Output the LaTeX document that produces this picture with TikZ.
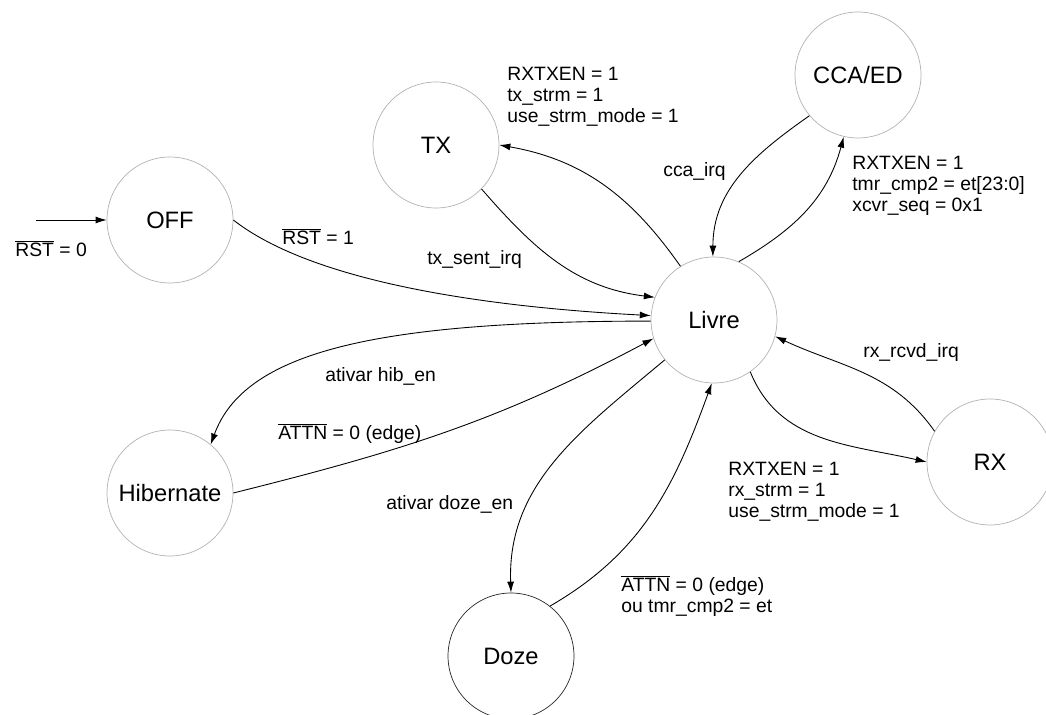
\documentclass[tikz,border=0pt]{standalone}
\usepackage{fontspec}
\setmainfont{Liberation Sans}
\usetikzlibrary{arrows.meta}
\newcommand{\negado}[1]{$\overline{\mbox{#1}}$}

\begin{document}
\begin{tikzpicture}[x=0.02cm, y=0.02cm, >={Latex[length=2.2mm, width=1.4mm]},
  estado/.style={circle, draw=black!30, minimum size=2.52cm, inner sep=0pt, font=\fontsize{13.5}{16}\selectfont},
  transicao/.style={->, line width=0.5pt},
  rotulo/.style={inner sep=0pt, align=left, font=\fontsize{11}{12}\selectfont}]
\useasboundingbox (0,0) rectangle (1046,-715);
% Draw the states
\foreach \nome/\x/\y/\texto in {off/170/220/OFF, tx/436/145/TX, cca/858/75/{CCA/ED}, livre/714/320/Livre, rx/990/462/RX, hib/170/493/Hibernate}
  \node[estado] (\nome) at (\x,-\y) {\texto};
\node[estado, draw=black!85] (doze) at (511,-656) {Doze};
% Draw the initial arrow
\coordinate (inicio) at (36,-220);
\draw[transicao] (inicio) -- (off);
% Draw the transitions
\draw[transicao] (off.0) to[out=-38, in=177, out looseness=0.6] (livre.176);
\draw[transicao] (tx.316) to[out=-49, in=173] (livre.159);
\draw[transicao] (livre.122) to[out=125, in=-10] (tx.0);
\draw[transicao] (cca.220) to[out=215, in=90] (livre.91);
\draw[transicao] (livre.67) to[out=30, in=255] (cca.257);
\draw[transicao] (livre.181) to[out=180, in=70, out looseness=1.55, in looseness=0.55] (hib.50);
\draw[transicao] (hib.0) to[out=14, in=208] (livre.197);
\draw[transicao] (livre.219) to[out=220, in=92] (doze.90);
\draw[transicao] (doze.52) to[out=30, in=250] (livre.268);
\draw[transicao] (livre.305) to[out=-68, in=167] (rx.180);
\draw[transicao] (rx.151) to[out=125, in=-25] (livre.345);
% Draw the labels
\node[rotulo, anchor=base west] (r-rst0) at (15,-257) {\negado{RST} = 0};
\node[rotulo, anchor=base west] (r-rst1) at (282,-245) {\negado{RST} = 1};
\node[rotulo, anchor=base west] (r-txsent) at (427,-265) {tx\_sent\_irq};
\node[rotulo, anchor=base west] (r-cca) at (663,-177) {cca\_irq};
\node[rotulo, anchor=base west] (r-rcvd) at (863,-358) {rx\_rcvd\_irq};
\node[rotulo, anchor=base west] (r-hib) at (325,-382) {ativar hib\_en};
\node[rotulo, anchor=base west] (r-attnhib) at (278,-440) {\negado{ATTN} = 0 (edge)};
\node[rotulo, anchor=base west] (r-doze) at (386,-510) {ativar doze\_en};
\node[rotulo, anchor=west] (r-tx) at (507,-97) {RXTXEN = 1\\tx\_strm = 1\\use\_strm\_mode = 1};
\node[rotulo, anchor=west] (r-ed) at (852,-186) {RXTXEN = 1\\tmr\_cmp2 = et[23:0]\\xcvr\_seq = 0x1};
\node[rotulo, anchor=west] (r-rx) at (728,-492) {RXTXEN = 1\\rx\_strm = 1\\use\_strm\_mode = 1};
\node[rotulo, anchor=west] (r-attndoze) at (621,-596) {\negado{ATTN} = 0 (edge)\\ou tmr\_cmp2 = et};
\end{tikzpicture}
\end{document}
